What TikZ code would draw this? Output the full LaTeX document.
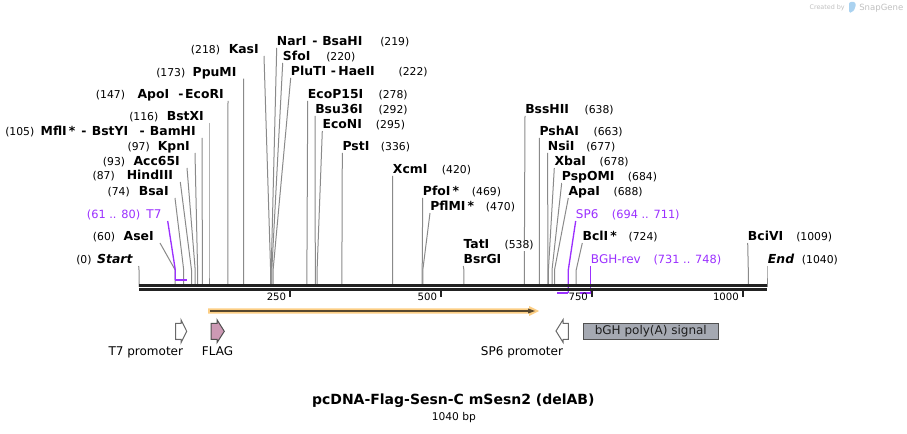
\documentclass[tikz,border=0pt]{standalone}
\usepackage{fontspec}
\setmainfont{DejaVu Sans}
\pgfdeclarelayer{bg}
\pgfsetlayers{bg,main}

\definecolor{sitegray}{RGB}{138,138,138}
\definecolor{strand}{RGB}{34,34,34}
\definecolor{primer}{RGB}{155,48,255}
\definecolor{orfband}{RGB}{252,206,132}
\definecolor{orfline}{RGB}{88,72,46}
\definecolor{flagpink}{RGB}{204,153,180}
\definecolor{polyagray}{RGB}{165,169,178}
\definecolor{featedge}{RGB}{105,105,105}
\definecolor{wmgray}{RGB}{192,192,192}
\definecolor{wmblue}{RGB}{170,210,240}

\tikzset{
	enz/.style={anchor=base west, inner xsep=0pt, inner ysep=0.6pt, fill=white, font=\fontsize{9.3}{11}\selectfont\bfseries},
	enzpos/.style={anchor=base west, inner xsep=0pt, inner ysep=0.6pt, fill=white, font=\fontsize{8.1}{10}\selectfont},
	primlbl/.style={anchor=base west, inner xsep=0pt, inner ysep=0.6pt, fill=white, text=primer, font=\fontsize{9}{11}\selectfont},
	primpos/.style={anchor=base west, inner xsep=0pt, inner ysep=0.6pt, fill=white, text=primer, font=\fontsize{8.5}{10}\selectfont},
	siteline/.style={draw=sitegray, line width=0.75pt},
	primline/.style={draw=primer, line width=1pt},
	primbar/.style={draw=primer, line width=1.5pt},
	featlbl/.style={anchor=base west, inner sep=0pt, font=\fontsize{9}{11}\selectfont},
	ticklbl/.style={anchor=base east, inner sep=0pt, font=\fontsize{7.6}{9}\selectfont},
}

\begin{document}
\begin{tikzpicture}[x=0.75pt,y=0.75pt,yscale=-1,xscale=1]
\useasboundingbox (0,0) rectangle (907,434);

%Coordinates: strands and bend points of the cut site lines
\coordinate (barL) at (139,287);
\coordinate (barR) at (767,287);
\coordinate (sStart) at (139,270);
\coordinate (sAseI) at (175.2,270);
\coordinate (sT7) at (175.3,270);
\coordinate (sBsaI) at (183.7,270);
\coordinate (sHindIII) at (191.5,270);
\coordinate (sAcc65I) at (195.2,270);
\coordinate (sKpnI) at (197.6,270);
\coordinate (sBamHI) at (202.4,270);
\coordinate (sBstXI) at (209,270);
\coordinate (sEcoRI) at (227.8,270);
\coordinate (sPpuMI) at (243.5,270);
\coordinate (sKasI) at (270.6,270);
\coordinate (sNarI) at (271.2,270);
\coordinate (sSfoI) at (271.8,270);
\coordinate (sPluTI) at (273.1,270);
\coordinate (sEcoP15I) at (306.9,270);
\coordinate (sBsu36I) at (315.3,270);
\coordinate (sEcoNI) at (317.1,270);
\coordinate (sPstI) at (341.9,270);
\coordinate (sXcmI) at (392.6,270);
\coordinate (sPfoI) at (422.2,270);
\coordinate (sPflMI) at (422.8,270);
\coordinate (sBsrGI) at (463.9,270);
\coordinate (sBssHII) at (524.3,270);
\coordinate (sPshAI) at (539.4,270);
\coordinate (sNsiI) at (547.8,270);
\coordinate (sXbaI) at (548.4,270);
\coordinate (sPspOMI) at (552,270);
\coordinate (sApaI) at (554.5,270);
\coordinate (sSP6) at (568.3,270);
\coordinate (sBclI) at (576.2,270);
\coordinate (sBGHrev) at (590.7,270);
\coordinate (sBciVI) at (748.3,270);
\coordinate (sEnd) at (767,270);
\coordinate (pT7a) at (175.3,280);
\coordinate (pT7b) at (187.3,280);
\coordinate (pSP6a) at (557.3,293);
\coordinate (pSP6b) at (568.3,293);
\coordinate (pBGHa) at (580.4,293);
\coordinate (pBGHb) at (590.7,293);

% Text Node: labels left of their sites
\node[enz, anchor=base east] (nStart) at (132.7,264) {\itshape Start};
\node[enzpos] (pStart) at (76,264) {(0)};
\node[enz, anchor=base east] (nAseI) at (154,241) {AseI};
\node[enzpos] (pAseI) at (92.7,241) {(60)};
\node[primlbl, anchor=base east] (nT7) at (161.7,219) {T7};
\node[primpos] (pT7) at (86.7,219) {(61 .. 80)};
\node[enz, anchor=base east] (nBsaI) at (169,196) {BsaI};
\node[enzpos] (pBsaI) at (107.3,196) {(74)};
\node[enz, anchor=base east] (nHindIII) at (173.3,180) {HindIII};
\node[enzpos] (pHindIII) at (92.3,180) {(87)};
\node[enz, anchor=base east] (nAcc65I) at (180,166) {Acc65I};
\node[enzpos] (pAcc65I) at (102.7,166) {(93)};
\node[enz, anchor=base east] (nKpnI) at (190,151) {KpnI};
\node[enzpos] (pKpnI) at (127.3,151) {(97)};
\node[enz, anchor=base east] (nBamHI) at (196,136) {MflI\,*\hspace{4.5pt}-\hspace{4pt}BstYI\hspace{8.5pt}-\hspace{4pt}BamHI};
\node[enzpos] (pBamHI) at (5,136) {(105)};
\node[enz, anchor=base east] (nBstXI) at (204,121) {BstXI};
\node[enzpos] (pBstXI) at (129,121) {(116)};
\node[enz, anchor=base east] (nEcoRI) at (224,99) {ApoI\hspace{7pt}-\hspace{1.2pt}EcoRI};
\node[enzpos] (pEcoRI) at (95.7,99) {(147)};
\node[enz, anchor=base east] (nPpuMI) at (236.7,76.7) {PpuMI};
\node[enzpos] (pPpuMI) at (156,76.7) {(173)};
\node[enz, anchor=base east] (nKasI) at (259,54) {KasI};
\node[enzpos] (pKasI) at (190.7,54) {(218)};

% Text Node: labels right of their sites
\node[enz] (nNarI) at (276.7,46) {NarI\hspace{4.5pt}-\hspace{3.5pt}BsaHI};
\node[enzpos] (pNarI) at (380,46) {(219)};
\node[enz] (nSfoI) at (282.7,61) {SfoI};
\node[enzpos] (pSfoI) at (326,61) {(220)};
\node[enz] (nPluTI) at (290.7,76) {PluTI\hspace{3.5pt}-\hspace{1.8pt}HaeII};
\node[enzpos] (pPluTI) at (398.3,76) {(222)};
\node[enz] (nEcoP15I) at (307.7,99) {EcoP15I};
\node[enzpos] (pEcoP15I) at (378.3,99) {(278)};
\node[enz] (nBsu36I) at (315,114) {Bsu36I};
\node[enzpos] (pBsu36I) at (378.3,114) {(292)};
\node[enz] (nEcoNI) at (322.3,129) {EcoNI};
\node[enzpos] (pEcoNI) at (375.7,129) {(295)};
\node[enz] (nPstI) at (342.3,151) {PstI};
\node[enzpos] (pPstI) at (380.7,151) {(336)};
\node[enz] (nXcmI) at (392.7,174) {XcmI};
\node[enzpos] (pXcmI) at (441.7,174) {(420)};
\node[enz] (nPfoI) at (422.7,196) {PfoI\,*};
\node[enzpos] (pPfoI) at (471.7,196) {(469)};
\node[enz] (nPflMI) at (430,211) {PflMI\,*};
\node[enzpos] (pPflMI) at (485.7,211) {(470)};
\node[enz] (nTatI) at (463.3,249) {TatI};
\node[enzpos] (pTatI) at (504.3,249) {(538)};
\node[enz] (nBsrGI) at (463.3,264) {BsrGI};
\node[enz] (nBssHII) at (525,114) {BssHII};
\node[enzpos] (pBssHII) at (584.3,114) {(638)};
\node[enz] (nPshAI) at (539.3,136) {PshAI};
\node[enzpos] (pPshAI) at (593.3,136) {(663)};
\node[enz] (nNsiI) at (547.7,151) {NsiI};
\node[enzpos] (pNsiI) at (586,151) {(677)};
\node[enz] (nXbaI) at (554.3,166) {XbaI};
\node[enzpos] (pXbaI) at (599.3,166) {(678)};
\node[enz] (nPspOMI) at (561.7,181) {PspOMI};
\node[enzpos] (pPspOMI) at (627.7,181) {(684)};
\node[enz] (nApaI) at (568.3,196) {ApaI};
\node[enzpos] (pApaI) at (613.3,196) {(688)};
\node[primlbl] (nSP6) at (575.7,219) {SP6};
\node[primpos] (pSP6) at (611.7,219) {(694 .. 711)};
\node[enz] (nBclI) at (582.3,241) {BclI\,*};
\node[enzpos] (pBclI) at (628.3,241) {(724)};
\node[primlbl] (nBGHrev) at (590.7,264) {BGH-rev};
\node[primpos] (pBGHrev) at (653.3,264) {(731 .. 748)};
\node[enz] (nBciVI) at (747.7,241) {BciVI};
\node[enzpos] (pBciVI) at (796,241) {(1009)};
\node[enz] (nEnd) at (767.7,264) {\itshape End};
\node[enzpos] (pEnd) at (801.7,264) {(1040)};

\begin{pgfonlayer}{bg}
%Straight Lines: left labels
\draw[siteline] (nStart.base east) ++(6,2) -- (sStart) -- (sStart |- barL);
\draw[siteline] (nAseI.base east) ++(6,2) -- (sAseI) -- (sAseI |- barL);
\draw[siteline] (nBsaI.base east) ++(6,2) -- (sBsaI) -- (sBsaI |- barL);
\draw[siteline] (nHindIII.base east) ++(7,2) -- (sHindIII) -- (sHindIII |- barL);
\draw[siteline] (nAcc65I.base east) ++(7,2) -- (sAcc65I) -- (sAcc65I |- barL);
\draw[siteline] (nKpnI.base east) ++(5,2) -- (sKpnI) -- (sKpnI |- barL);
\draw[siteline] (nBamHI.base east) ++(6,2) -- (sBamHI) -- (sBamHI |- barL);
\draw[siteline] (nBstXI.base east) ++(5,2) -- (sBstXI) -- (sBstXI |- barL);
\draw[siteline] (nEcoRI.base east) ++(4,2) -- (sEcoRI) -- (sEcoRI |- barL);
\draw[siteline] (nPpuMI.base east) ++(7,2) -- (sPpuMI) -- (sPpuMI |- barL);
\draw[siteline] (nKasI.base east) ++(5,2) -- (sKasI) -- (sKasI |- barL);
%Straight Lines: right labels
\draw[siteline] (nNarI.base west) ++(0,2) -- (sNarI) -- (sNarI |- barL);
\draw[siteline] (nSfoI.base west) ++(0,2) -- (sSfoI) -- (sSfoI |- barL);
\draw[siteline] (nPluTI.base west) ++(0,2) -- (sPluTI) -- (sPluTI |- barL);
\draw[siteline] (nEcoP15I.base west) ++(0,2) -- (sEcoP15I) -- (sEcoP15I |- barL);
\draw[siteline] (nBsu36I.base west) ++(0,2) -- (sBsu36I) -- (sBsu36I |- barL);
\draw[siteline] (nEcoNI.base west) ++(0,2) -- (sEcoNI) -- (sEcoNI |- barL);
\draw[siteline] (nPstI.base west) ++(0,2) -- (sPstI) -- (sPstI |- barL);
\draw[siteline] (nXcmI.base west) ++(0,2) -- (sXcmI) -- (sXcmI |- barL);
\draw[siteline] (nPfoI.base west) ++(0,2) -- (sPfoI) -- (sPfoI |- barL);
\draw[siteline] (nPflMI.base west) ++(0,2) -- (sPflMI) -- (sPflMI |- barL);
\draw[siteline] (nBsrGI.base west) ++(0,2) -- (sBsrGI) -- (sBsrGI |- barL);
\draw[siteline] (nBssHII.base west) ++(0,2) -- (sBssHII) -- (sBssHII |- barL);
\draw[siteline] (nPshAI.base west) ++(0,2) -- (sPshAI) -- (sPshAI |- barL);
\draw[siteline] (nNsiI.base west) ++(0,2) -- (sNsiI) -- (sNsiI |- barL);
\draw[siteline] (nXbaI.base west) ++(0,2) -- (sXbaI) -- (sXbaI |- barL);
\draw[siteline] (nPspOMI.base west) ++(0,2) -- (sPspOMI) -- (sPspOMI |- barL);
\draw[siteline] (nApaI.base west) ++(0,2) -- (sApaI) -- (sApaI |- barL);
\draw[siteline] (nBclI.base west) ++(0,2) -- (sBclI) -- (sBclI |- barL);
\draw[siteline] (nBciVI.base west) ++(0,2) -- (sBciVI) -- (sBciVI |- barL);
\draw[siteline] (nEnd.base west) ++(-0.7,2) -- (sEnd) -- (sEnd |- barL);
%Straight Lines: primers
\draw[primline] (nT7.base east) ++(6,2) -- (sT7) -- (pT7a);
\draw[primline] (nSP6.base west) ++(0,2) -- (sSP6) -- (pSP6b);
\draw[primline] (nBGHrev.base west) ++(0,2) -- (sBGHrev) -- (pBGHb);
\end{pgfonlayer}

%Straight Lines: the two strands
\draw[strand, line width=1.95pt] (139,285.6) -- (767,285.6);
\draw[strand, line width=1.8pt] (139,289.5) -- (767,289.5);
%Straight Lines: primer bars
\draw[primbar] (pT7a) -- (pT7b);
\draw[primbar] (pSP6a) -- (pSP6b);
\draw[primbar] (pBGHa) -- (pBGHb);

%Straight Lines: ticks
\draw[strand, line width=1.5pt] (289.9,291) -- (289.9,297.5);
\draw[strand, line width=1.5pt] (440.8,291) -- (440.8,297.5);
\draw[strand, line width=1.5pt] (591.7,291) -- (591.7,297.5);
\draw[strand, line width=1.5pt] (742.6,291) -- (742.6,297.5);
% Text Node
\node[ticklbl] (t250) at (286.4,300.7) {250};
\node[ticklbl] (t500) at (437.3,300.7) {500};
\node[ticklbl] (t750) at (588.2,300.7) {750};
\node[ticklbl] (t1000) at (739.1,300.7) {1000};

%Shape: ORF arrow
\fill[orfband] (208,308.3) -- (529,308.3) -- (529,306) -- (539,311) -- (529,316) -- (529,313.7) -- (208,313.7) -- cycle;
\draw[orfline, line width=1.5pt] (210,311) -- (529,311);
\fill[orfline] (528,308.5) -- (535,311) -- (528,313.5) -- cycle;

%Shape: T7 promoter
\draw[featedge, fill=white, line width=0.75pt] (175.7,323.3) -- (181,323.3) -- (181,319.7) -- (186.7,331.3) -- (181,342.7) -- (181,339.3) -- (175.7,339.3) -- cycle;
%Shape: FLAG
\draw[draw={rgb,255:red,80;green,80;blue,80}, fill=flagpink, line width=0.75pt] (211,323.3) -- (217,323.3) -- (217,319.7) -- (224.3,331.3) -- (217,342.7) -- (217,339.3) -- (211,339.3) -- cycle;
%Shape: SP6 promoter
\draw[featedge, fill=white, line width=0.75pt] (568.3,323.3) -- (563,323.3) -- (563,319.7) -- (556,331) -- (563,342.3) -- (563,339.3) -- (568.3,339.3) -- cycle;
%Shape: bGH poly(A) signal
\node[draw={rgb,255:red,80;green,80;blue,80}, fill=polyagray, line width=0.75pt, minimum width=101.25pt, minimum height=12pt, inner sep=0pt, text={rgb,255:red,30;green,30;blue,30}, font=\fontsize{9}{11}\selectfont] (bgh) at (650.8,331.3) {bGH poly(A) signal};

% Text Node
\node[featlbl] (lT7pro) at (108.3,356) {T7 promoter};
% Text Node
\node[featlbl] (lFLAG) at (201.7,356) {FLAG};
% Text Node
\node[featlbl] (lSP6pro) at (480.7,356) {SP6 promoter};

% Text Node
\node[anchor=base, inner sep=0pt, font=\fontsize{10.5}{12}\selectfont\bfseries] (title) at (453.3,405) {pcDNA-Flag-Sesn-C mSesn2 (delAB)};
% Text Node
\node[anchor=base, inner sep=0pt, font=\fontsize{8}{10}\selectfont] (bp) at (453.8,420.7) {1040 bp};

% Text Node
\node[anchor=base west, inner sep=0pt, text=wmgray, font=\fontsize{4.8}{6}\selectfont] (wm1) at (809.3,10) {Created by};
\fill[wmblue, rounded corners=1.5pt] (849,2) -- (855.5,2) -- (855.5,8) -- (852,12.7) -- (849,12.7) -- cycle;
\node[anchor=base west, inner sep=0pt, text=wmgray, font=\fontsize{6.4}{8}\selectfont] (wm2) at (859,10.5) {SnapGene};
\end{tikzpicture}
\end{document}
